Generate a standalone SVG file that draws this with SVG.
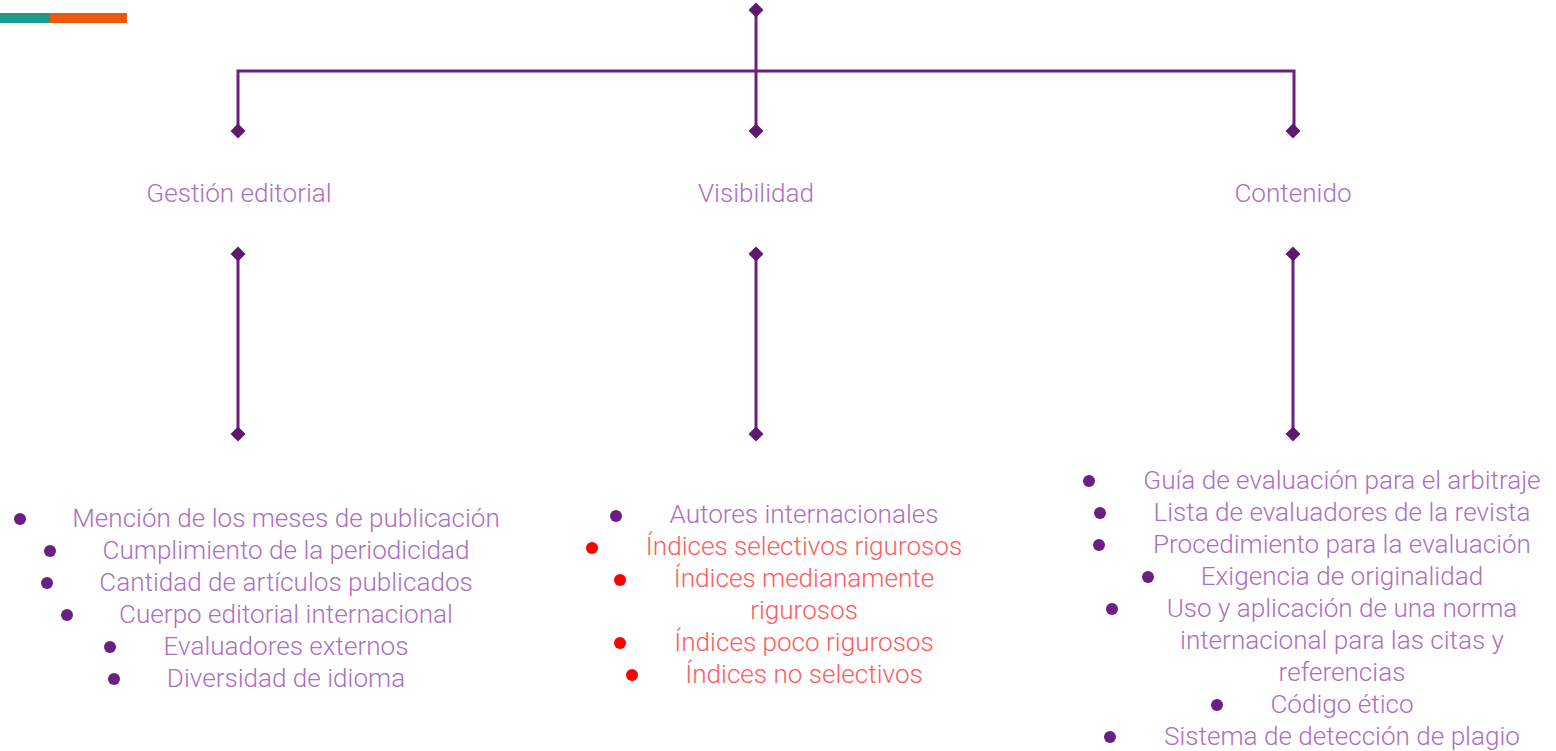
<svg xmlns="http://www.w3.org/2000/svg" width="1556" height="751" viewBox="0 0 1556 751">
<style>
.ln{stroke:#6b1f80;stroke-width:3;fill:none}
.dm{fill:#5e1870}
.t{font-family:Roboto,"Noto Sans",sans-serif;font-weight:300;font-size:26.1px;fill:#ac6fc0;text-anchor:middle}
.r{fill:#ff5c5c}
.b{fill:#6c1e82}
.br{fill:#ff0000}
</style>
<defs>
<path id="d" d="M0,-7.5 L7.5,0 L0,7.5 L-7.5,0 Z"/>
</defs>
<rect x="0" y="13" width="50" height="10" fill="#1b9a8a"/>
<rect x="50" y="13" width="77" height="10" fill="#eb5a0a"/>
<g id="connectors">
<path class="ln" d="M756,10 V131"/>
<path class="ln" d="M238,131 V71 H1294 V131"/>
<path class="ln" d="M238,254 V434"/>
<path class="ln" d="M756,254 V434"/>
<path class="ln" d="M1293,254 V434"/>
<g class="dm">
<use href="#d" x="756" y="10"/>
<use href="#d" x="238" y="131"/>
<use href="#d" x="756" y="131"/>
<use href="#d" x="1293" y="131"/>
<use href="#d" x="238" y="254"/>
<use href="#d" x="756" y="254"/>
<use href="#d" x="1293" y="254"/>
<use href="#d" x="238" y="434"/>
<use href="#d" x="756" y="434"/>
<use href="#d" x="1293" y="434"/>
</g>
</g>
<g id="gestion">
<text class="t" x="239" y="202">Gestión editorial</text>
</g>
<g id="visibilidad">
<text class="t" x="756" y="202">Visibilidad</text>
</g>
<g id="contenido">
<text class="t" x="1293" y="202">Contenido</text>
</g>
<g id="list-gestion">
<circle class="b" cx="20" cy="519" r="6"/>
<circle class="b" cx="50" cy="551" r="6"/>
<circle class="b" cx="47" cy="583" r="6"/>
<circle class="b" cx="67" cy="615" r="6"/>
<circle class="b" cx="110" cy="647" r="6"/>
<circle class="b" cx="114" cy="679" r="6"/>
<text class="t" x="286" y="527">Mención de los meses de publicación</text>
<text class="t" x="286" y="559">Cumplimiento de la periodicidad</text>
<text class="t" x="286" y="591">Cantidad de artículos publicados</text>
<text class="t" x="286" y="623">Cuerpo editorial internacional</text>
<text class="t" x="286" y="655">Evaluadores externos</text>
<text class="t" x="286" y="687">Diversidad de idioma</text>
</g>
<g id="list-visibilidad">
<circle class="b" cx="616" cy="516" r="6"/>
<circle class="br" cx="592" cy="548" r="6"/>
<circle class="br" cx="620" cy="580" r="6"/>
<circle class="br" cx="620" cy="643" r="6"/>
<circle class="br" cx="632" cy="675" r="6"/>
<text class="t" x="804" y="523">Autores internacionales</text>
<text class="t r" x="804" y="555">Índices selectivos rigurosos</text>
<text class="t r" x="804" y="587">Índices medianamente</text>
<text class="t r" x="804" y="619">rigurosos</text>
<text class="t r" x="804" y="651">Índices poco rigurosos</text>
<text class="t r" x="804" y="683">Índices no selectivos</text>
</g>
<g id="list-contenido">
<circle class="b" cx="1089" cy="481" r="6"/>
<circle class="b" cx="1100" cy="513" r="6"/>
<circle class="b" cx="1099" cy="545" r="6"/>
<circle class="b" cx="1148" cy="577" r="6"/>
<circle class="b" cx="1112" cy="609" r="6"/>
<circle class="b" cx="1217" cy="705" r="6"/>
<circle class="b" cx="1110" cy="737" r="6"/>
<text class="t" x="1342" y="489">Guía de evaluación para el arbitraje</text>
<text class="t" x="1342" y="521">Lista de evaluadores de la revista</text>
<text class="t" x="1342" y="553">Procedimiento para la evaluación</text>
<text class="t" x="1342" y="585">Exigencia de originalidad</text>
<text class="t" x="1342" y="617">Uso y aplicación de una norma</text>
<text class="t" x="1342" y="649">internacional para las citas y</text>
<text class="t" x="1342" y="681">referencias</text>
<text class="t" x="1342" y="713">Código ético</text>
<text class="t" x="1342" y="745">Sistema de detección de plagio</text>
</g>
</svg>
